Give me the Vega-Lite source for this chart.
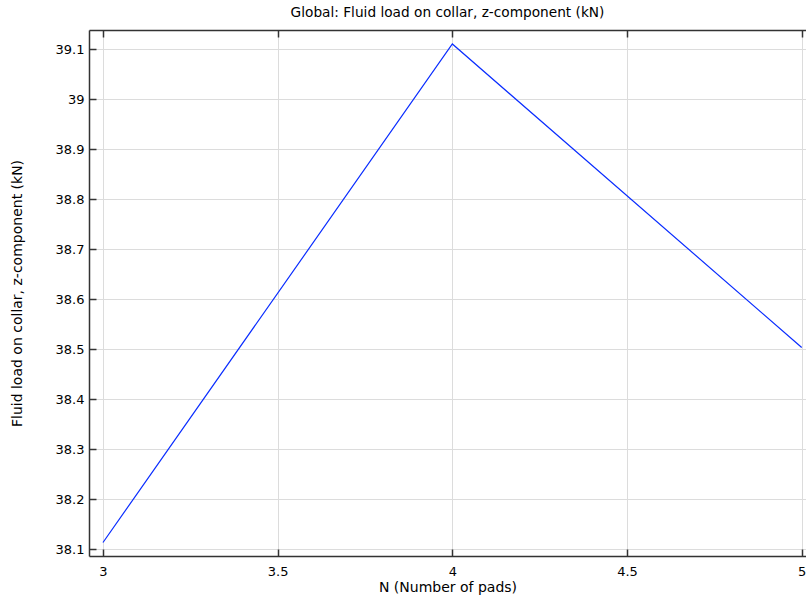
{
  "$schema": "https://vega.github.io/schema/vega-lite/v6.json",
  "width": 717,
  "height": 526,
  "autosize": {"type": "none"},
  "padding": {"left": 89, "top": 30, "right": 0, "bottom": 42},
  "background": "white",
  "config": {
    "font": "DejaVu Sans",
    "view": {"stroke": null},
    "axis": {
      "labelFont": "DejaVu Sans",
      "titleFont": "DejaVu Sans",
      "labelFontSize": 13,
      "titleFontSize": 14,
      "labelColor": "#000",
      "titleColor": "#000",
      "titleFontWeight": "normal",
      "domainColor": "#333",
      "domainWidth": 1.5,
      "tickColor": "#333",
      "tickSize": -7,
      "tickWidth": 1.5,
      "gridColor": "#dcdcdc",
      "gridWidth": 1,
      "format": "~g"
    }
  },
  "title": {
    "text": "Global: Fluid load on collar, z-component (kN)",
    "font": "DejaVu Sans",
    "fontSize": 13.7,
    "fontWeight": "normal",
    "color": "#000",
    "anchor": "middle",
    "offset": 10
  },
  "data": {
    "values": [
      {"N": 3, "Fz": 38.113},
      {"N": 4, "Fz": 39.11},
      {"N": 5, "Fz": 38.503}
    ]
  },
  "layer": [
    {
      "mark": {"type": "line", "color": "#0a2dff", "strokeWidth": 1.2, "clip": true},
      "encoding": {
        "x": {
          "field": "N", "type": "quantitative",
          "scale": {"domain": [2.96, 5.0123], "nice": false, "zero": false},
          "axis": {
            "orient": "bottom",
            "values": [3, 3.5, 4, 4.5, 5],
            "title": "N (Number of pads)",
            "labelPadding": 16,
            "titlePadding": 2,
            "labelFlush": false
          }
        },
        "y": {
          "field": "Fz", "type": "quantitative",
          "scale": {"domain": [38.086, 39.138], "nice": false, "zero": false},
          "axis": {
            "values": [38.1, 38.2, 38.3, 38.4, 38.5, 38.6, 38.7, 38.8, 39, 38.9, 39.1],
            "title": "Fluid load on collar, z-component (kN)",
            "labelPadding": 12,
            "titlePadding": 31,
            "labelFlush": false
          }
        }
      }
    },
    {
      "mark": {"type": "line", "opacity": 0},
      "encoding": {
        "x": {
          "field": "N", "type": "quantitative",
          "axis": {
            "orient": "top",
            "values": [3, 3.5, 4, 4.5, 5],
            "labels": false,
            "title": null,
            "grid": false
          }
        },
        "y": {"field": "Fz", "type": "quantitative"}
      }
    }
  ],
  "resolve": {"axis": {"x": "independent"}}
}
